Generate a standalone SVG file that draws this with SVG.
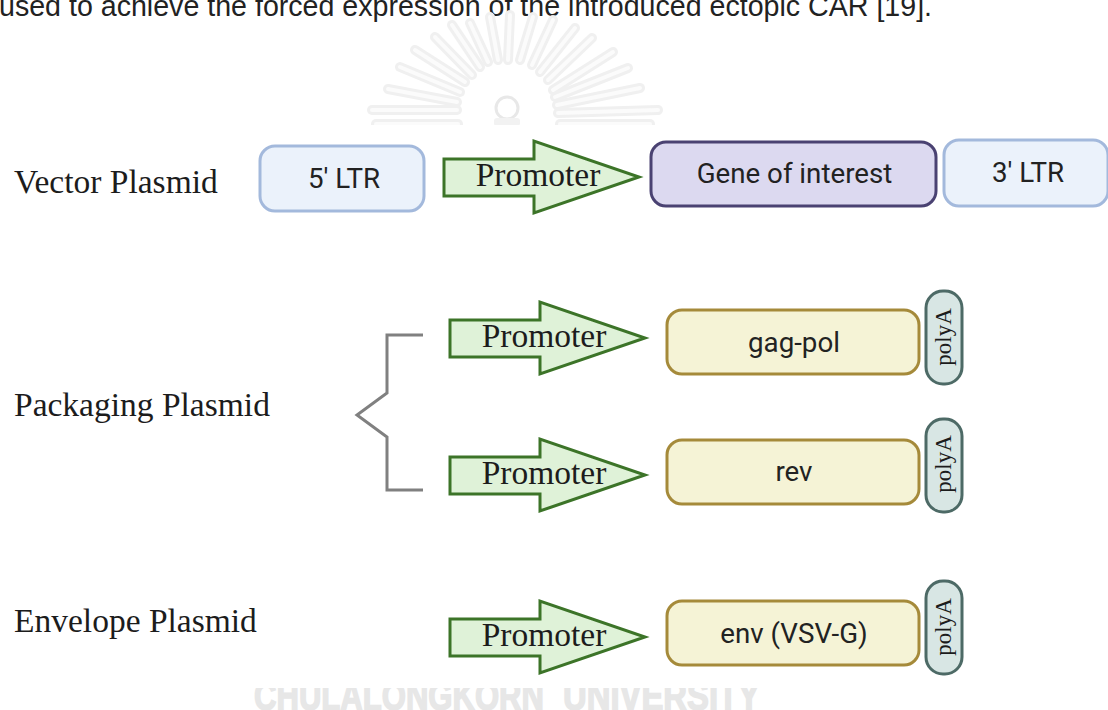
<svg xmlns="http://www.w3.org/2000/svg" width="1108" height="710" viewBox="0 0 1108 710">
<style>
.ser{font-family:"Liberation Serif","Times New Roman",serif;fill:#1c1c1c}
.rob{font-family:Roboto,"Liberation Sans",sans-serif;fill:#222;font-size:27.7px;text-anchor:middle}
.lab{font-size:33.5px}
.pro{font-size:33.5px;text-anchor:middle}
.pat{font-size:23px;text-anchor:middle}
.wm{font-family:"Liberation Sans",Arial,sans-serif;font-weight:700;font-size:40px;fill:#e7e7e7;stroke:#e7e7e7;stroke-width:1.5px}
.arrow{fill:#dff2d8;stroke:#3c7428;stroke-width:3;stroke-linejoin:miter}
.ltr{fill:#ebf2fb;stroke:#a3b9dc;stroke-width:3}
.goi{fill:#dcd9f0;stroke:#4a4272;stroke-width:3}
.gene{fill:#f5f3d6;stroke:#a58a3a;stroke-width:3}
.pa{fill:#d8e6e4;stroke:#4d6a66;stroke-width:3}
.ray{stroke:#f0f0f0;stroke-width:10;stroke-linecap:round;fill:none}
.ray2{stroke:#fbfbfb;stroke-width:4;stroke-linecap:round;fill:none}
</style>
<defs>
<polygon id="arr" class="arrow" points="0,18 90,18 90,0 195,36 90,72 90,55 0,55"/>
<clipPath id="cTop"><rect x="0" y="0" width="1108" height="125"/></clipPath>
<clipPath id="cBot"><rect x="0" y="688" width="1108" height="22"/></clipPath>
<g id="rays">
<path d="M372,110H457"/><path d="M388,89L457,102"/><path d="M400,67L460,92"/><path d="M415,50L465,82"/><path d="M435,37L472,75"/><path d="M452,25L480,67"/><path d="M470,23L488,62"/><path d="M490,17L498,60"/><path d="M510,15L508,60"/><path d="M533,17L520,60"/><path d="M553,20L532,65"/><path d="M575,28L540,72"/><path d="M592,38L548,80"/><path d="M613,52L553,90"/><path d="M628,68L555,97"/><path d="M640,88L557,105"/><path d="M658,110L558,113"/><path d="M376,124H458"/><path d="M560,124H650"/>
</g>
</defs>
<rect width="1108" height="710" fill="#fff"/>
<text x="-1" y="16" font-family="'Liberation Sans',Arial,sans-serif" font-size="28.6" fill="#222">used to achieve the forced expression of the introduced ectopic CAR [19].</text>
<g id="seal" clip-path="url(#cTop)">
<use href="#rays" class="ray"/>
<use href="#rays" class="ray2"/>
<circle cx="507" cy="108" r="11" fill="#fff" stroke="#e8e8e8" stroke-width="3"/>
<rect x="494" y="118" width="26" height="8" rx="3" fill="#f2f2f2"/>
</g>
<g clip-path="url(#cBot)">
<text class="wm" x="254" y="710" textLength="290" lengthAdjust="spacingAndGlyphs">CHULALONGKORN</text>
<text class="wm" x="563" y="710" textLength="197" lengthAdjust="spacingAndGlyphs">UNIVERSITY</text>
</g>

<g id="connectors">
<path d="M423,335H387V393L357,415L387,437V490H423" fill="none" stroke="#808080" stroke-width="3"/>
</g>

<g id="label-vector"><text class="ser lab" x="14" y="193">Vector Plasmid</text></g>
<g id="label-packaging"><text class="ser lab" x="14" y="416">Packaging Plasmid</text></g>
<g id="label-envelope"><text class="ser lab" x="14" y="632">Envelope Plasmid</text></g>

<g id="ltr5"><rect class="ltr" x="260" y="146" width="164" height="65" rx="15"/><text class="rob" x="344" y="188">5' LTR</text></g>
<g id="promoter1"><use href="#arr" x="444" y="141"/><text class="ser pro" x="538" y="186">Promoter</text></g>
<g id="goi"><rect class="goi" x="651" y="142" width="285" height="64" rx="15"/><text class="rob" x="794.500" y="183">Gene of interest</text></g>
<g id="ltr3"><rect class="ltr" x="944" y="140" width="164" height="66" rx="15"/><text class="rob" x="1028" y="182">3' LTR</text></g>

<g id="promoter2"><use href="#arr" x="450" y="302"/><text class="ser pro" x="544" y="347">Promoter</text></g>
<g id="gagpol"><rect class="gene" x="667" y="310" width="252" height="64" rx="15"/><text class="rob" x="794" y="352">gag-pol</text></g>
<g id="polya1"><rect class="pa" x="926" y="291" width="36" height="93" rx="17"/><text class="ser pat" transform="translate(951,337) rotate(-90)">polyA</text></g>

<g id="promoter3"><use href="#arr" x="450" y="439"/><text class="ser pro" x="544" y="484">Promoter</text></g>
<g id="rev"><rect class="gene" x="667" y="440" width="252" height="64" rx="15"/><text class="rob" x="794" y="481">rev</text></g>
<g id="polya2"><rect class="pa" x="926" y="419" width="36" height="93" rx="17"/><text class="ser pat" transform="translate(951,464) rotate(-90)">polyA</text></g>

<g id="promoter4"><use href="#arr" x="450" y="601"/><text class="ser pro" x="544" y="646">Promoter</text></g>
<g id="env"><rect class="gene" x="667" y="601" width="252" height="64" rx="15"/><text class="rob" x="794" y="643">env (VSV-G)</text></g>
<g id="polya3"><rect class="pa" x="926" y="581" width="36" height="93" rx="17"/><text class="ser pat" transform="translate(951,627) rotate(-90)">polyA</text></g>
</svg>
